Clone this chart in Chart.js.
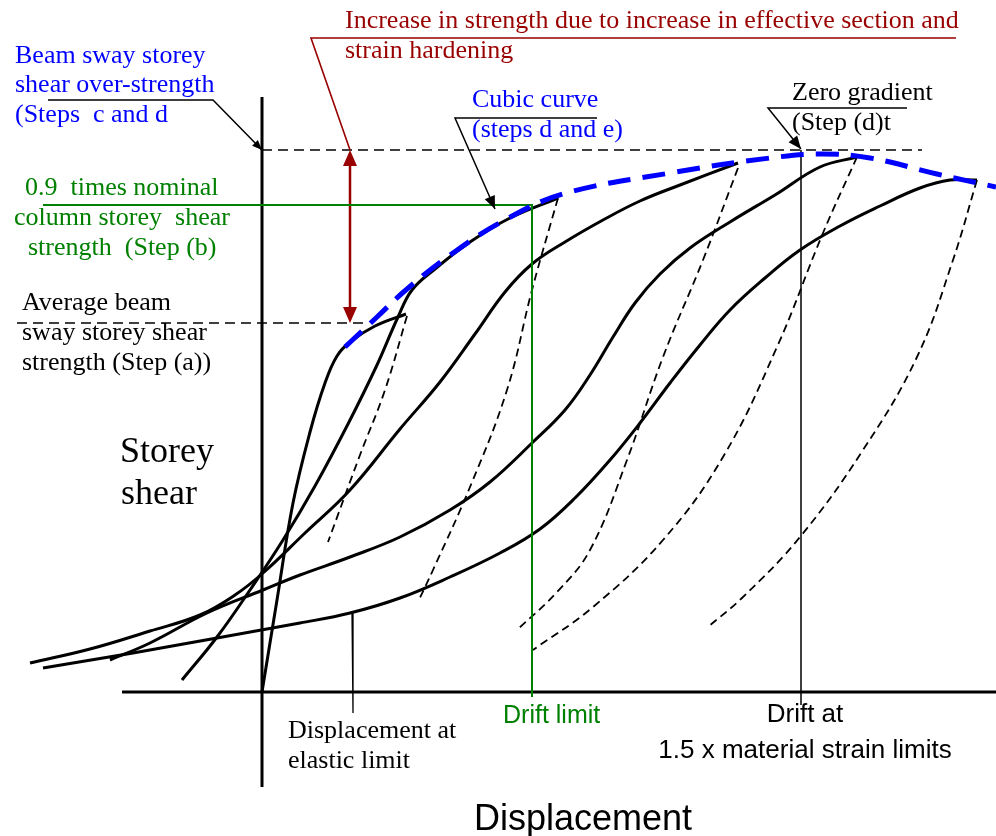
<!DOCTYPE html>
<html>
<head>
<meta charset="utf-8">
<script src="https://cdn.jsdelivr.net/npm/chart.js@4.4.1/dist/chart.umd.min.js"></script>
<style>
  html, body { margin: 0; padding: 0; background: #ffffff; }
  canvas { display: block; }
</style>
</head>
<body>
<canvas id="c" width="996" height="836"></canvas>
<script>
// Storey shear (y) against displacement (x), arbitrary units.
// Successive reloading branches of a cyclic push, their unloading branches,
// and the cubic envelope through the peaks.

const firstLoading = [[0,0],[1.5,9.2],[3.1,18.9],[4.8,26.0],[6.3,30.9],[7.5,33.6],[8.8,35.0],[11.3,36.6],[14.4,37.8]];
const secondLoading = [[-8.0,1.2],[-4.5,5.5],[-1.2,10.2],[2.1,15.2],[5.3,20.6],[8.6,26.8],[11.5,32.7],[13.6,37.5],[15.0,40.2],[17.3,42.3],[20.8,45.0],[24.8,47.4],[29.6,49.4]];
const thirdLoading = [[-23.2,2.9],[-17.2,4.3],[-11.2,6.1],[-6.2,7.7],[-2.7,9.7],[0.1,11.9],[4.3,15.9],[8.8,20.2],[13.8,26.3],[17.8,31.0],[21.3,35.8],[24.3,40.0],[27.0,42.8],[30.3,45.0],[34.1,47.2],[37.8,49.1],[41.8,50.7],[47.6,52.9]];
const fourthLoading = [[-15.2,3.2],[-11.2,4.9],[-5.5,7.9],[0.1,10.2],[3.8,11.7],[8.8,13.5],[13.8,15.5],[18.8,18.2],[22.8,21.0],[27.0,24.9],[30.3,28.2],[32.8,31.7],[35.1,35.5],[37.3,38.9],[39.8,41.8],[42.8,44.4],[46.8,47.0],[51.3,49.7],[55.8,52.5],[59.5,53.5]];
const fifthLoading = [[-21.9,2.4],[-12.9,3.9],[-4.5,5.4],[3.8,6.9],[8.8,7.9],[13.8,9.4],[18.8,11.5],[23.8,13.9],[27.8,16.3],[31.3,19.4],[34.8,23.2],[37.8,26.9],[40.8,30.9],[43.8,34.7],[46.8,38.2],[50.3,41.4],[53.8,44.2],[57.8,46.6],[61.8,48.6],[65.8,50.4],[68.8,51.2],[71.5,51.2]];

const firstUnloading = [[14.5,37.6],[12.3,30.2],[9.8,23.7],[6.6,15.0]];
const secondUnloading = [[29.6,49.4],[27.0,40.2],[24.5,30.2],[20.8,20.5],[17.1,12.2],[15.6,9.0]];
const thirdUnloading = [[47.6,52.4],[44.1,43.2],[40.1,33.5],[36.5,23.2],[32.8,14.2],[29.5,10.0],[25.5,6.2]];
const fourthUnloading = [[59.5,53.5],[56.1,45.9],[51.5,34.5],[46.1,23.5],[40.1,15.2],[33.1,8.5],[27.1,4.2]];
const fifthUnloading = [[71.5,51.2],[69.1,43.2],[65.5,33.5],[60.1,24.2],[53.8,15.5],[48.1,9.5],[44.6,6.5]];

const cubicEnvelope = [[8.3,34.5],[11.5,37.5],[14.5,40.3],[19.1,43.9],[24.1,47.1],[30.1,49.8],[40.8,51.9],[50.8,53.4],[56.0,53.8],[60.8,53.4],[67.5,51.8],[73.4,50.5]];

// Reference levels
const beamSwayStrength = 36.9;    // average beam sway storey shear, step (a)
const overStrength = 54.2;        // beam sway storey shear over-strength
const columnStrength90 = 48.7;    // 0.9 x nominal column storey shear strength
const driftLimit = 27.0;          // drift limit
const driftMaterial = 53.9;       // drift at 1.5 x material strain limits
const elasticDisplacement = 9.0;  // displacement at elastic limit
const strengthGainAt = 8.8;       // where the strength increase is marked

// Visible extent of the drawing
const xMin = -26.2, xMax = 73.4, yMin = -14.4, yMax = 69.2;

const toXY = arr => arr.map(([x, y]) => ({ x, y }));

function line(points, color, width, dash, tension, order) {
  return {
    data: toXY(points),
    showLine: true,
    pointRadius: 0,
    pointHoverRadius: 0,
    borderColor: color,
    borderWidth: width,
    borderDash: dash || [],
    tension: tension || 0,
    fill: false,
    order: order,
    clip: false
  };
}

const BLACK = '#000000', BLUE = '#0000ff', GREEN = '#008000', RED = '#990000';

const datasets = [
  line(cubicEnvelope, BLUE, 5, [23, 12], 0.4, 0),

  line(firstLoading, BLACK, 3, null, 0.4, 2),
  line(secondLoading, BLACK, 3, null, 0.4, 2),
  line(thirdLoading, BLACK, 3, null, 0.4, 2),
  line(fourthLoading, BLACK, 3, null, 0.4, 2),
  line(fifthLoading, BLACK, 3, null, 0.4, 2),

  line(firstUnloading, BLACK, 1.8, [8, 5], 0.4, 3),
  line(secondUnloading, BLACK, 1.8, [8, 5], 0.4, 3),
  line(thirdUnloading, BLACK, 1.8, [8, 5], 0.4, 3),
  line(fourthUnloading, BLACK, 1.8, [8, 5], 0.4, 3),
  line(fifthUnloading, BLACK, 1.8, [8, 5], 0.4, 3),

  // axes
  line([[-14.0, 0], [xMax, 0]], BLACK, 3, null, 0, 4),
  line([[0, -9.5], [0, 59.5]], BLACK, 3, null, 0, 4),

  // reference levels and limits
  line([[0, overStrength], [66.0, overStrength]], BLACK, 1.3, [10, 6], 0, 4),
  line([[-24.5, beamSwayStrength], [10.3, beamSwayStrength]], BLACK, 1.3, [10, 6], 0, 4),
  line([[-21.9, columnStrength90], [driftLimit, columnStrength90], [driftLimit, -0.5]], GREEN, 2, null, 0, 1),
  line([[driftMaterial, overStrength], [driftMaterial, -1.3]], BLACK, 1.5, null, 0, 4),
  line([[elasticDisplacement, 7.9], [elasticDisplacement + 0.1, -2.1]], BLACK, 1.3, null, 0, 4),

  // strength increase marker and its label leader
  line([[strengthGainAt, overStrength - 1.0], [strengthGainAt, beamSwayStrength + 1.0]], RED, 2.5, null, 0, 1),
  line([[69.4, 65.4], [4.9, 65.4], [strengthGainAt, overStrength]], RED, 1.6, null, 0, 1),

  // label leaders
  line([[-21.4, 59.2], [-4.9, 59.2], [0, overStrength]], BLACK, 1.5, null, 0, 4),
  line([[33.5, 57.4], [19.3, 57.4], [23.3, 48.3]], BLACK, 1.5, null, 0, 4),
  line([[64.5, 58.4], [50.6, 58.4], [driftMaterial, overStrength + 0.1]], BLACK, 1.5, null, 0, 4)
];

// Arrowheads: [from, tip, colour, length, half width]
const arrowHeads = [
  [[strengthGainAt, beamSwayStrength + 3], [strengthGainAt, overStrength], RED, 16, 7],
  [[strengthGainAt, overStrength - 3], [strengthGainAt, beamSwayStrength], RED, 16, 7],
  [[-4.9, 59.2], [0, overStrength], BLACK, 10, 4],
  [[19.3, 57.4], [23.3, 48.3], BLACK, 13, 5.5],
  [[50.6, 58.4], [driftMaterial, overStrength + 0.1], BLACK, 13, 5.5]
];

const SERIF = '26px "Liberation Serif", "Times New Roman", serif';
const BIG_SERIF = '36px "Liberation Serif", "Times New Roman", serif';
const SANS = '"Liberation Sans", Arial, sans-serif';

// Annotation text: [text, x px, y px (baseline), font, colour, align]
const labels = [
  ['Increase in strength due to increase in effective section and', 345, 28, SERIF, RED, 'left'],
  ['strain hardening', 345, 58, SERIF, RED, 'left'],
  ['Beam sway storey', 15, 63, SERIF, BLUE, 'left'],
  ['shear over-strength', 15, 92, SERIF, BLUE, 'left'],
  ['(Steps  c and d', 15, 122, SERIF, BLUE, 'left'],
  ['Cubic curve', 472, 107, SERIF, BLUE, 'left'],
  ['(steps d and e)', 472, 137, SERIF, BLUE, 'left'],
  ['Zero gradient', 792, 100, SERIF, BLACK, 'left'],
  ['(Step (d)t', 792, 130, SERIF, BLACK, 'left'],
  ['0.9  times nominal', 25, 195, SERIF, GREEN, 'left'],
  ['column storey  shear', 14, 225, SERIF, GREEN, 'left'],
  ['strength  (Step (b)', 28, 255, SERIF, GREEN, 'left'],
  ['Average beam', 22, 310, SERIF, BLACK, 'left'],
  ['sway storey shear', 22, 340, SERIF, BLACK, 'left'],
  ['strength (Step (a))', 22, 370, SERIF, BLACK, 'left'],
  ['Storey', 120, 462, BIG_SERIF, BLACK, 'left'],
  ['shear', 121, 504, BIG_SERIF, BLACK, 'left'],
  ['Displacement at', 288, 738, SERIF, BLACK, 'left'],
  ['elastic limit', 288, 768, SERIF, BLACK, 'left'],
  ['Drift limit', 503, 723, '25px ' + SANS, GREEN, 'left'],
  ['Drift at', 805, 722, '26px ' + SANS, BLACK, 'center'],
  ['1.5 x material strain limits', 805, 758, '26px ' + SANS, BLACK, 'center'],
  ['Displacement', 474, 830, '36px ' + SANS, BLACK, 'left']
];

const annotationPlugin = {
  id: 'annotations',
  afterDatasetsDraw(chart) {
    const ctx = chart.ctx;
    const sx = chart.scales.x, sy = chart.scales.y;
    ctx.save();
    for (const [from, tip, color, len, half] of arrowHeads) {
      const x0 = sx.getPixelForValue(from[0]), y0 = sy.getPixelForValue(from[1]);
      const x1 = sx.getPixelForValue(tip[0]), y1 = sy.getPixelForValue(tip[1]);
      const a = Math.atan2(y1 - y0, x1 - x0);
      ctx.beginPath();
      ctx.moveTo(x1, y1);
      ctx.lineTo(x1 - len * Math.cos(a) + half * Math.sin(a), y1 - len * Math.sin(a) - half * Math.cos(a));
      ctx.lineTo(x1 - len * Math.cos(a) - half * Math.sin(a), y1 - len * Math.sin(a) + half * Math.cos(a));
      ctx.closePath();
      ctx.fillStyle = color;
      ctx.fill();
    }
    ctx.textBaseline = 'alphabetic';
    for (const [text, x, y, font, color, align] of labels) {
      ctx.font = font;
      ctx.fillStyle = color;
      ctx.textAlign = align;
      ctx.fillText(text, x, y);
    }
    ctx.restore();
  }
};

new Chart(document.getElementById('c'), {
  type: 'scatter',
  data: { datasets },
  options: {
    responsive: false,
    devicePixelRatio: 1,
    animation: false,
    layout: { padding: 0 },
    plugins: { legend: { display: false }, tooltip: { enabled: false } },
    events: [],
    scales: {
      x: { type: 'linear', min: xMin, max: xMax, display: false },
      y: { type: 'linear', min: yMin, max: yMax, display: false }
    }
  },
  plugins: [annotationPlugin]
});
</script>
</body>
</html>
